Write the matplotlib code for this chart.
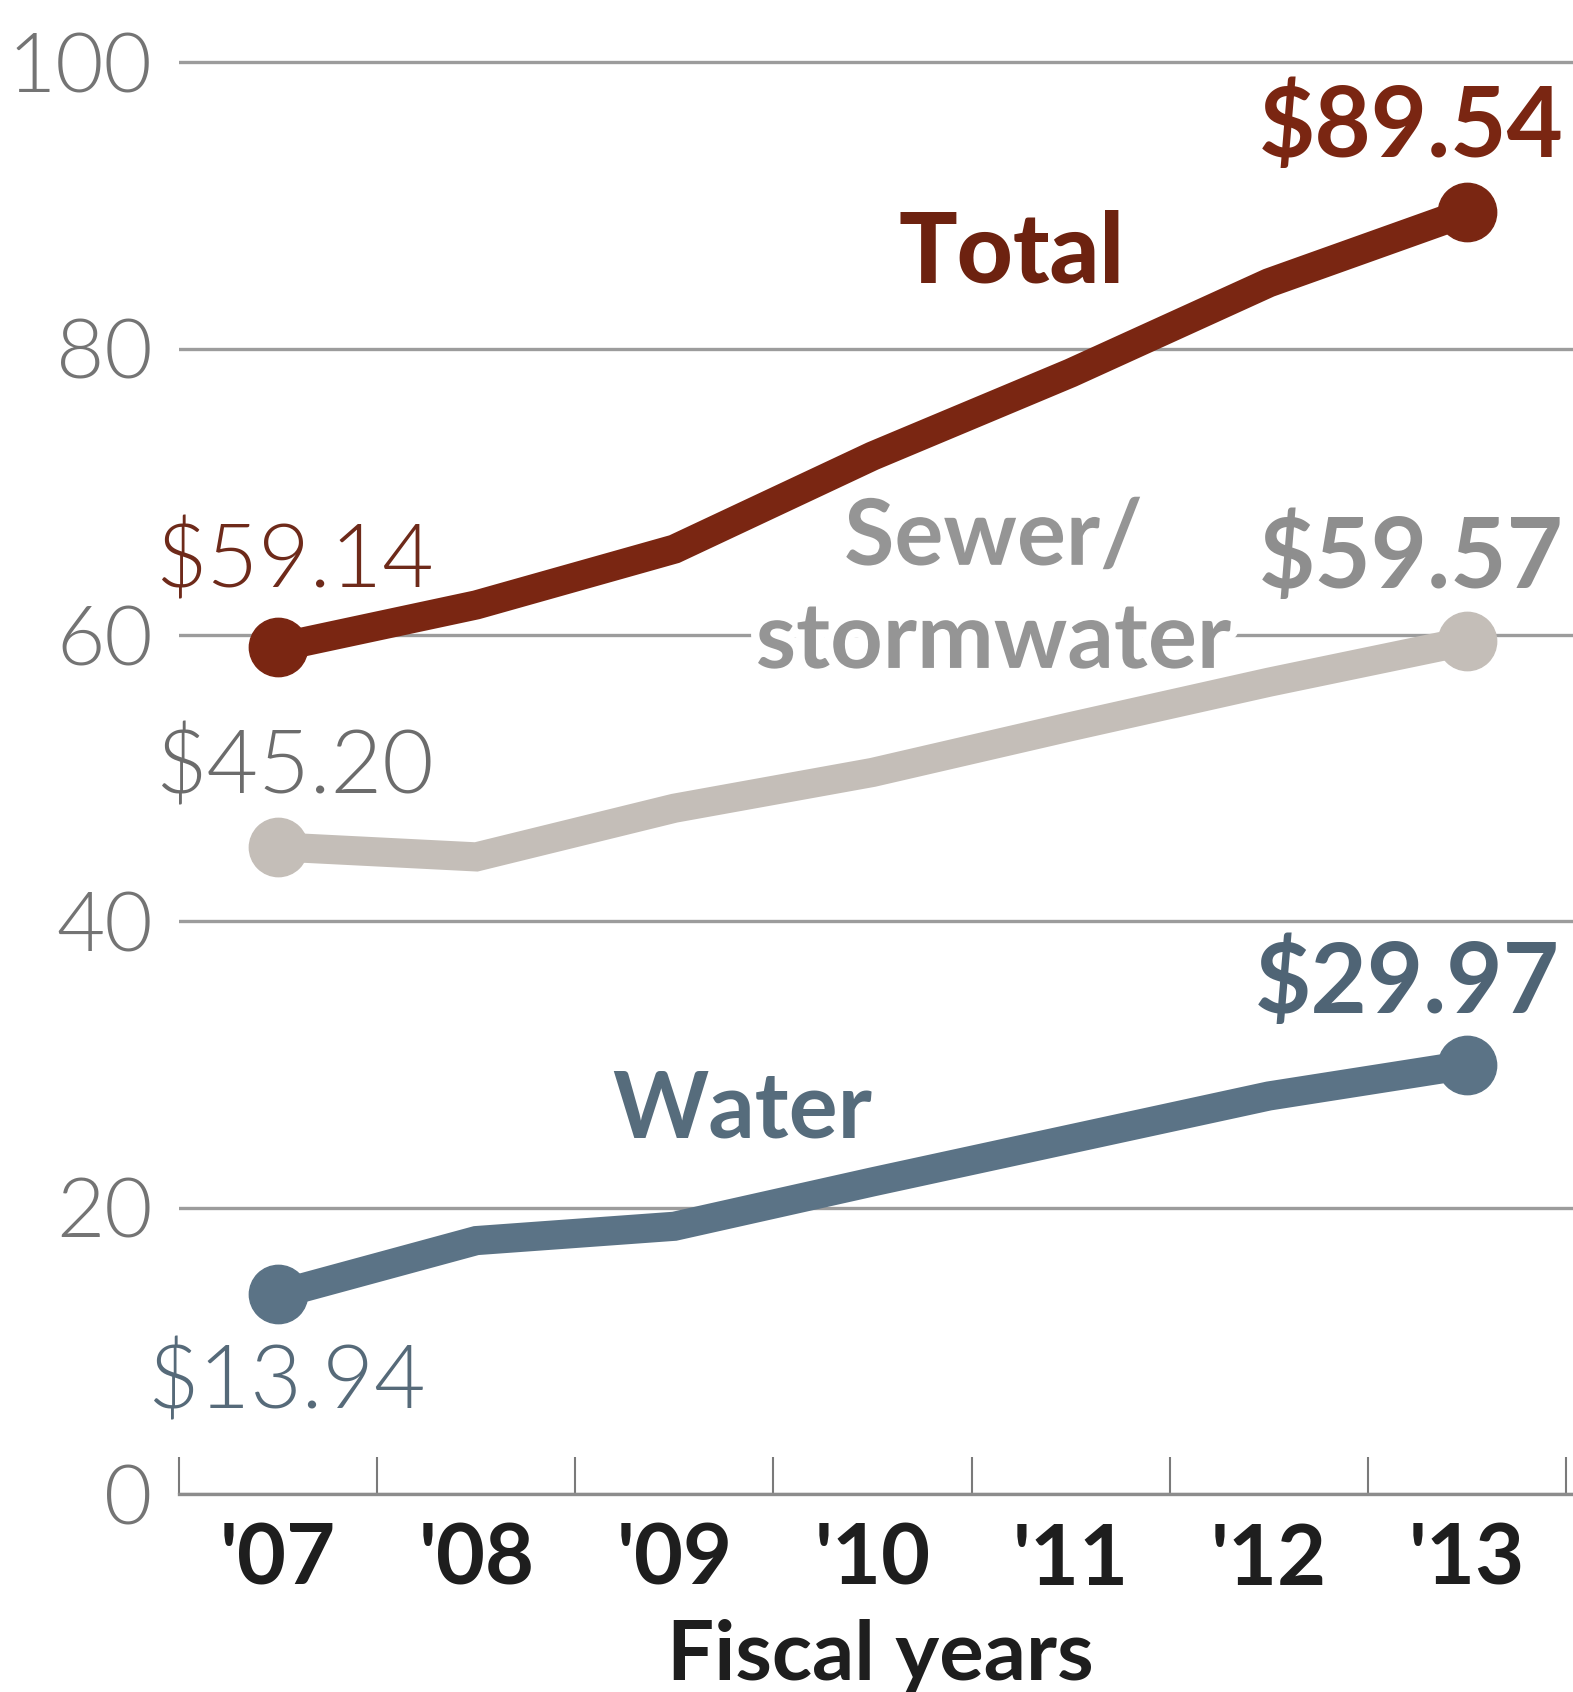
import matplotlib
matplotlib.use('Agg')
import matplotlib.pyplot as plt
import matplotlib.patheffects as pe
import numpy as np

years = ["'07", "'08", "'09", "'10", "'11", "'12", "'13"]
total = [59.14, 62.1, 66.0, 72.5, 78.3, 84.6, 89.54]
sewer = [45.20, 44.5, 47.9, 50.4, 53.6, 56.7, 59.57]
water = [13.94, 17.7, 18.7, 21.8, 24.8, 27.8, 29.97]
yticks = [0, 20, 40, 60, 80, 100]

plt.rcParams['font.family'] = ['Lato', 'DejaVu Sans']

c_total = '#7a2612'
c_sewer = '#c4beb8'
c_water = '#5b7386'
LIGHT = 300

W, H = 1573, 1692
fig = plt.figure(figsize=(W / 100, H / 100), dpi=100)
fig.patch.set_facecolor('white')
ax = fig.add_axes([179 / W, (H - 1494) / H, (W - 179) / W, (1494 - 48) / H])
x = np.arange(len(years))
ax.set_xlim(-0.5, 6.535)
ax.set_ylim(0, 101)

# grid + axis
ax.set_yticks(yticks)
ax.set_yticklabels([str(v) for v in yticks])
ax.yaxis.grid(True, color='#9c9c9c', linewidth=2.4)
ax.set_axisbelow(True)
for s in ['top', 'right', 'left']:
    ax.spines[s].set_visible(False)
ax.spines['bottom'].set_color('#8c8c8c')
ax.spines['bottom'].set_linewidth(2.4)
ax.tick_params(axis='y', length=0, pad=19, labelsize=60, labelcolor='#747474')
for lab in ax.get_yticklabels():
    lab.set_fontweight(LIGHT)
ax.get_yticklabels()[-1].set_y(100)

ax.set_xticks(x)
ax.set_xticklabels(years, fontsize=61, fontweight='bold', color='#1e1e1e')
ax.set_xticks(np.arange(-0.5, 7, 1), minor=True)
ax.tick_params(axis='x', which='major', length=0, pad=20)
ax.tick_params(axis='x', which='minor', direction='in', length=27, width=1.5, color='#7a7a7a')

# lines
for vals, col in [(water, c_water), (sewer, c_sewer), (total, c_total)]:
    ax.plot(x, vals, color=col, linewidth=21, marker='o', markersize=42,
            markevery=[0, len(vals) - 1], solid_joinstyle='miter',
            solid_capstyle='round', clip_on=False, zorder=3)

halo = [pe.withStroke(linewidth=12, foreground='white')]

# value labels
ax.text(6.49, 93.4, '$89.54', ha='right', va='baseline', fontsize=70, fontweight='bold', color=c_total)
ax.text(-0.62, 63.3, '$59.14', ha='left', va='baseline', fontsize=64, fontweight=LIGHT, color='#6e2a1a')
ax.text(6.49, 63.3, '$59.57', ha='right', va='baseline', fontsize=70, fontweight='bold', color='#8e8e8e')
ax.text(-0.62, 48.95, '$45.20', ha='left', va='baseline', fontsize=64, fontweight=LIGHT, color='#6c6c6c')
ax.text(6.47, 33.6, '$29.97', ha='right', va='baseline', fontsize=70, fontweight='bold', color='#4f6475')
ax.text(-0.66, 6.0, '$13.94', ha='left', va='baseline', fontsize=64, fontweight=LIGHT, color='#566a79')

# series labels
ax.text(3.70, 84.6, 'Total', ha='center', va='baseline', fontsize=70, fontweight='black', color='#6d2210', zorder=5)
ax.text(3.61, 64.9, 'Sewer/', ha='center', va='baseline', fontsize=66, fontweight='bold', color='#959595',
        path_effects=halo, zorder=5)
ax.text(3.61, 57.7, 'stormwater', ha='center', va='baseline', fontsize=66, fontweight='bold', color='#959595',
        path_effects=halo, zorder=5)
ax.text(2.34, 24.9, 'Water', ha='center', va='baseline', fontsize=66, fontweight='bold', color='#566c7c', zorder=5)

fig.text(880 / W, (H - 1680) / H, 'Fiscal years', ha='center', va='baseline', fontsize=60,
         fontweight='bold', color='#1e1e1e')

fig.savefig('out.png', dpi=100, facecolor='white')
